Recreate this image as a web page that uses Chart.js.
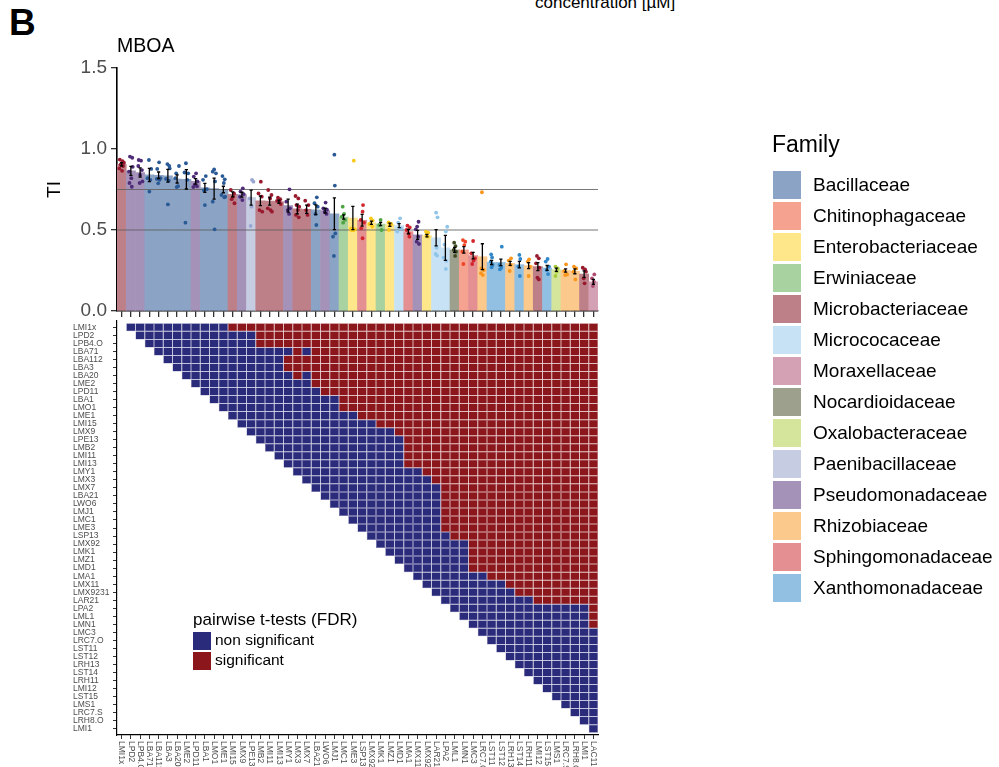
<!DOCTYPE html>
<html>
<head>
<meta charset="utf-8">
<script src="https://cdn.jsdelivr.net/npm/chart.js@4.4.1/dist/chart.umd.min.js"></script>
<style>
  html, body { margin: 0; padding: 0; background: #fff; width: 999px; height: 767px; overflow: hidden; }
  canvas { position: absolute; left: 0; top: 0; }
  #panel { position: absolute; left: 9px; top: 4px; font: bold 37px "Liberation Sans", Arial, sans-serif; line-height: 1; color: #000; }
  #conc { position: absolute; left: 535px; top: -6px; font: 17px "Liberation Sans", Arial, sans-serif; line-height: 1; color: #000; }
</style>
</head>
<body>
<div id="panel">B</div>
<div id="conc">concentration [µM]</div>
<canvas id="heat" width="999" height="767"></canvas>
<canvas id="bars" width="999" height="767"></canvas>
<script>
// ---- strains (x categories, ordered by mean TI) ----
const strains = ['LMI1x','LPD2','LPB4.O','LBA71','LBA112','LBA3','LBA20','LME2','LPD11','LBA1',
  'LMO1','LME1','LMI15','LMX9','LPE13','LMB2','LMI11','LMI13','LMY1','LMX3',
  'LMX7','LBA21','LWO6','LMJ1','LMC1','LME3','LSP13','LMX92','LMK1','LMZ1',
  'LMD1','LMA1','LMX11','LMX9231','LAR21','LPA2','LML1','LMN1','LMC3','LRC7.O',
  'LST11','LST12','LRH13','LST14','LRH11','LMI12','LST15','LMS1','LRC7.S','LRH8.O',
  'LMI1','LAC11'];

const strainFamily = ['Microbacteriaceae','Pseudomonadaceae','Pseudomonadaceae','Bacillaceae','Bacillaceae',
  'Bacillaceae','Bacillaceae','Bacillaceae','Pseudomonadaceae','Bacillaceae',
  'Bacillaceae','Bacillaceae','Microbacteriaceae','Pseudomonadaceae','Paenibacillaceae',
  'Microbacteriaceae','Microbacteriaceae','Microbacteriaceae','Pseudomonadaceae','Microbacteriaceae',
  'Microbacteriaceae','Bacillaceae','Pseudomonadaceae','Bacillaceae','Erwiniaceae',
  'Enterobacteriaceae','Sphingomonadaceae','Enterobacteriaceae','Erwiniaceae','Enterobacteriaceae',
  'Micrococaceae','Sphingomonadaceae','Pseudomonadaceae','Enterobacteriaceae','Micrococaceae',
  'Micrococaceae','Nocardioidaceae','Chitinophagaceae','Sphingomonadaceae','Rhizobiaceae',
  'Xanthomonadaceae','Xanthomonadaceae','Rhizobiaceae','Xanthomonadaceae','Rhizobiaceae',
  'Microbacteriaceae','Xanthomonadaceae','Oxalobacteraceae','Rhizobiaceae','Rhizobiaceae',
  'Microbacteriaceae','Moraxellaceae'];

// ---- mean TI and standard error per strain ----
const meanTI = [0.905,0.865,0.855,0.840,0.838,0.835,0.815,0.813,0.800,0.760,
  0.755,0.750,0.720,0.718,0.700,0.680,0.678,0.675,0.650,0.630,
  0.628,0.625,0.620,0.600,0.580,0.574,0.560,0.545,0.537,0.532,
  0.527,0.490,0.470,0.465,0.452,0.390,0.377,0.377,0.342,0.335,
  0.300,0.300,0.294,0.286,0.280,0.274,0.266,0.255,0.250,0.245,
  0.228,0.180];
const seTI = [0.010,0.028,0.028,0.041,0.020,0.039,0.025,0.060,0.017,0.028,
  0.065,0.020,0.015,0.015,0.046,0.030,0.025,0.010,0.040,0.030,
  0.025,0.030,0.015,0.098,0.013,0.072,0.036,0.010,0.010,0.010,
  0.012,0.013,0.028,0.008,0.050,0.077,0.015,0.020,0.020,0.080,
  0.013,0.020,0.012,0.020,0.018,0.025,0.015,0.010,0.010,0.015,
  0.020,0.015];

// ---- replicate TI values and their horizontal jitter (category units) ----
const repTI = [
  [0.935,0.925,0.915,0.905,0.895,0.880,0.865],
  [0.953,0.946,0.890,0.860,0.820,0.790,0.767],
  [0.932,0.928,0.895,0.870,0.840,0.800,0.790],
  [0.932,0.877,0.820,0.810,0.737],
  [0.918,0.877,0.820,0.815,0.810,0.788],
  [0.907,0.895,0.880,0.815,0.805,0.658],
  [0.895,0.850,0.820,0.770,0.765],
  [0.912,0.855,0.850,0.810,0.545],
  [0.850,0.830,0.800,0.780,0.770,0.765],
  [0.833,0.810,0.752,0.745,0.654],
  [0.874,0.860,0.850,0.800,0.675,0.504],
  [0.833,0.813,0.790,0.716,0.706,0.702],
  [0.747,0.726,0.706,0.690,0.665],
  [0.757,0.737,0.722,0.705,0.685],
  [0.809,0.798,0.695,0.644,0.525],
  [0.798,0.726,0.706,0.623,0.613],
  [0.747,0.716,0.695,0.634,0.623,0.613],
  [0.700,0.690,0.680,0.675,0.660],
  [0.751,0.675,0.634,0.623,0.599],
  [0.710,0.695,0.654,0.644,0.623,0.593,0.578],
  [0.681,0.654,0.623,0.593],
  [0.702,0.665,0.644,0.599,0.531],
  [0.669,0.634,0.625,0.613,0.599],
  [0.965,0.774,0.479,0.459,0.340],
  [0.644,0.600,0.582,0.562,0.545],
  [0.928,0.510,0.505,0.500,0.500,0.500],
  [0.654,0.613,0.562,0.545,0.510,0.449],
  [0.572,0.558,0.537,0.521],
  [0.562,0.531,0.500],
  [0.547,0.537,0.531,0.500],
  [0.572,0.545,0.510,0.490],
  [0.527,0.516,0.500,0.479,0.459],
  [0.551,0.521,0.504,0.459,0.428,0.414],
  [0.490,0.484,0.469,0.459],
  [0.607,0.578,0.391,0.352,0.342],
  [0.520,0.490,0.410,0.330,0.310,0.260],
  [0.422,0.401,0.377,0.366,0.340],
  [0.438,0.428,0.407,0.366,0.290],
  [0.432,0.356,0.325,0.311,0.290],
  [0.733,0.263,0.253,0.233,0.222],
  [0.350,0.331,0.305,0.284,0.270],
  [0.397,0.284,0.267,0.257],
  [0.325,0.311,0.284,0.247],
  [0.346,0.321,0.274,0.216],
  [0.319,0.305,0.274,0.216],
  [0.340,0.325,0.294,0.267,0.206,0.195],
  [0.321,0.305,0.274,0.253,0.228],
  [0.274,0.263,0.243,0.216],
  [0.288,0.247,0.226,0.222],
  [0.274,0.263,0.243,0.195],
  [0.267,0.257,0.243,0.202,0.171],
  [0.226,0.202,0.181,0.154]
];
const repJitter = [
  [-0.20,0.10,0.25,-0.10,0.15,-0.25,0.05],
  [-0.10,0.15,0.20,-0.20,0.05,-0.15,0.10],
  [-0.15,0.10,-0.20,0.20,0.00,0.25,-0.05],
  [-0.05,0.20,-0.20,0.10,0.00],
  [0.05,-0.15,0.20,-0.20,0.10,-0.05],
  [-0.05,0.15,0.20,-0.20,0.10,0.00],
  [0.20,-0.10,-0.20,0.10,-0.05],
  [-0.05,-0.20,0.20,0.10,-0.10],
  [0.05,-0.20,0.20,-0.10,0.15,-0.25],
  [0.10,-0.20,0.20,-0.10,0.00],
  [0.00,-0.15,0.20,0.10,-0.15,0.05],
  [-0.10,0.15,0.05,-0.20,0.20,0.10],
  [-0.20,0.15,0.05,-0.10,0.20],
  [0.10,-0.15,0.20,-0.20,0.05],
  [0.10,0.25,-0.15,0.05,-0.05],
  [0.05,-0.20,0.15,-0.10,0.20],
  [-0.15,0.20,0.05,-0.20,0.10,0.25],
  [-0.10,0.15,-0.20,0.05,0.20],
  [0.15,-0.20,0.20,-0.05,0.10],
  [-0.20,0.10,-0.10,0.20,0.05,-0.15,0.15],
  [-0.15,0.20,-0.05,0.10],
  [0.10,-0.15,0.20,-0.05,0.05],
  [0.05,-0.20,0.20,-0.05,0.15],
  [0.00,0.05,0.10,-0.15,-0.05],
  [-0.10,0.05,-0.20,0.15,-0.05],
  [0.10,-0.20,0.20,-0.05,0.10,-0.15],
  [0.10,0.05,-0.15,0.20,-0.10,0.05],
  [-0.05,0.15,-0.20,0.10],
  [0.00,-0.15,0.10],
  [-0.15,0.15,0.00,-0.10],
  [0.10,-0.10,0.20,-0.20],
  [-0.10,0.15,-0.20,0.05,0.10],
  [0.10,-0.05,-0.20,0.05,-0.10,0.15],
  [-0.10,0.15,-0.05,0.10],
  [0.00,0.15,0.05,-0.05,0.10],
  [0.20,0.05,-0.10,-0.20,0.10,0.05],
  [-0.05,0.10,-0.10,0.15,0.05],
  [-0.10,0.15,0.05,-0.15,-0.05],
  [0.00,-0.20,0.20,0.05,-0.10],
  [-0.05,-0.10,0.15,-0.15,0.05],
  [-0.05,0.05,-0.10,0.10,0.00],
  [0.10,-0.15,0.05,-0.10],
  [0.10,-0.15,0.05,-0.05],
  [0.00,0.10,-0.10,0.05],
  [0.05,-0.10,0.15,0.00],
  [-0.10,0.10,-0.20,0.15,-0.05,0.10],
  [0.05,-0.15,0.20,-0.05,0.10],
  [-0.10,0.15,0.05,-0.10],
  [0.05,-0.15,0.15,-0.05],
  [-0.10,0.15,-0.15,0.05],
  [-0.15,0.10,0.20,-0.05,0.05],
  [0.10,-0.15,0.05,-0.05]
];

// reference levels drawn as horizontal lines
const refLevels = [0.75, 0.5];
const yTicks = [0, 0.5, 1.0, 1.5];

// ---- pairwise t-tests (FDR): first significant column per row, plus isolated non-significant cells ----
const sigFrom = [12,15,15,19,18,18,19,21,22,24,
  24,26,28,30,31,31,31,31,33,34,
  35,35,35,35,35,35,36,38,38,38,
  38,40,42,43,45,51,51,51,52,52,
  52,52,52,52,52,52,52,52,52,52,
  52];
const nonSigCells = [[3,20],[6,20]];

// ---- families ----
const familyNames = ['Bacillaceae','Chitinophagaceae','Enterobacteriaceae','Erwiniaceae','Microbacteriaceae',
  'Micrococaceae','Moraxellaceae','Nocardioidaceae','Oxalobacteraceae','Paenibacillaceae',
  'Pseudomonadaceae','Rhizobiaceae','Sphingomonadaceae','Xanthomonadaceae'];
const familyFill = ['#8BA3C4','#F6A290','#FEE68A','#A8D2A0','#BE8088',
  '#C7E2F4','#D4A0B4','#9CA08C','#D5E59C','#C6CCE2',
  '#A592B9','#FCC98C','#E48F92','#92C0E3'];
const familyDot = ['#2A5A96','#ED4525','#F9C91A','#4FA443','#99192E',
  '#8FC5E9','#B04A72','#3F4A22','#A6CB3A','#9AA6D2',
  '#4E2C78','#F8961E','#D2262E','#2F86C8'];

const sigLabels = ['non significant', 'significant'];
const sigColors = ['#2B2B7B', '#8B171C'];
const sigEdges = ['#7677AE', '#B7686B'];

const FONT = '"Liberation Sans", Arial, sans-serif';
Chart.defaults.font.family = FONT;

const famIdx = name => familyNames.indexOf(name);

// ================= heat map of pairwise tests =================
const cells = [], cellFill = [], cellEdge = [];
for (let r = 0; r < strains.length - 1; r++) {
  for (let j = r + 1; j < strains.length; j++) {
    const sig = j >= sigFrom[r] && !nonSigCells.some(c => c[0] === r && c[1] === j) ? 1 : 0;
    cells.push({ y: r, x: [j - 0.5, j + 0.5] });
    cellFill.push(sigColors[sig]);
    cellEdge.push(sigEdges[sig]);
  }
}
const rowLabels = strains.slice(0, strains.length - 1);

const heatDecor = {
  id: 'heatDecor',
  afterDraw(chart) {
    const ctx = chart.ctx;
    const xs = chart.scales.x;
    ctx.save();
    // rotated column labels under the matrix
    ctx.font = '8.5px ' + FONT;
    ctx.fillStyle = '#4d4d4d';
    ctx.textAlign = 'left';
    ctx.textBaseline = 'middle';
    strains.forEach((s, i) => {
      ctx.save();
      ctx.translate(xs.getPixelForValue(i), xs.top + 6);
      ctx.rotate(Math.PI / 2);
      ctx.fillText(s, 0, 0);
      ctx.restore();
    });
    // legend for the test outcome
    ctx.fillStyle = '#000';
    ctx.textBaseline = 'middle';
    ctx.font = '17px ' + FONT;
    ctx.fillText('pairwise t-tests (FDR)', 193, 620);
    ctx.font = '15.5px ' + FONT;
    sigLabels.forEach((lab, k) => {
      ctx.fillStyle = sigColors[k];
      ctx.fillRect(193, 632 + 20 * k, 18, 18);
      ctx.fillStyle = '#000';
      ctx.fillText(lab, 215, 641 + 20 * k);
    });
    // family legend
    ctx.font = '23px ' + FONT;
    ctx.fillText('Family', 772, 146);
    ctx.font = '19px ' + FONT;
    familyNames.forEach((f, k) => {
      ctx.fillStyle = familyFill[k];
      ctx.fillRect(773, 171 + 31 * k, 28, 28);
      ctx.fillStyle = '#000';
      ctx.fillText(f, 813, 185.5 + 31 * k);
    });
    ctx.restore();
  }
};

new Chart(document.getElementById('heat'), {
  type: 'bar',
  data: {
    datasets: [{
      data: cells,
      backgroundColor: cellFill,
      borderColor: cellEdge,
      borderWidth: 0.5,
      borderSkipped: false,
      inflateAmount: 0,
      barPercentage: 1,
      categoryPercentage: 1
    }]
  },
  options: {
    indexAxis: 'y',
    responsive: false,
    animation: false,
    events: [],
    layout: { padding: { left: 73, top: 321, right: 401, bottom: 0 } },
    plugins: { legend: { display: false }, tooltip: { enabled: false } },
    scales: {
      x: {
        type: 'linear', position: 'bottom', min: -0.5, max: 51.5, offset: false,
        afterBuildTicks: s => { s.ticks = strains.map((_, i) => ({ value: i })); },
        ticks: { display: false },
        grid: { offset: false, drawOnChartArea: false, drawTicks: true, tickLength: 4, color: '#333', lineWidth: 1 },
        border: { display: true, color: '#000', width: 1.2 },
        afterFit: s => { s.height = 32; }
      },
      y: {
        type: 'linear', reverse: true, min: -0.79, max: 50.79, offset: false,
        afterBuildTicks: s => { s.ticks = rowLabels.map((_, i) => ({ value: i })); },
        ticks: {
          autoSkip: false, crossAlign: 'far', color: '#4d4d4d',
          font: { size: 8.5, family: FONT },
          callback: v => rowLabels[v]
        },
        grid: { offset: false, drawOnChartArea: false, drawTicks: true, tickLength: 4, color: '#333', lineWidth: 1 },
        border: { display: true, color: '#000', width: 1.2 },
        afterFit: s => { s.width = 44; }
      }
    }
  },
  plugins: [heatDecor]
});

// ================= bar chart of mean TI =================
const barData = strains.map((s, i) => ({ x: i, y: meanTI[i] }));
const barFill = strainFamily.map(f => familyFill[famIdx(f)]);
const dots = [], dotColors = [];
repTI.forEach((vals, i) => {
  vals.forEach((v, k) => {
    dots.push({ x: i + repJitter[i][k], y: v });
    dotColors.push(familyDot[famIdx(strainFamily[i])]);
  });
});

const errorBars = {
  id: 'errorBars',
  afterDatasetsDraw(chart) {
    const { ctx, scales: { x, y } } = chart;
    ctx.save();
    ctx.strokeStyle = '#000';
    ctx.lineWidth = 1.3;
    meanTI.forEach((m, i) => {
      const px = x.getPixelForValue(i);
      const lo = y.getPixelForValue(m - seTI[i]);
      const hi = y.getPixelForValue(m + seTI[i]);
      ctx.beginPath();
      ctx.moveTo(px, lo); ctx.lineTo(px, hi);
      ctx.moveTo(px - 1.6, lo); ctx.lineTo(px + 1.6, lo);
      ctx.moveTo(px - 1.6, hi); ctx.lineTo(px + 1.6, hi);
      ctx.stroke();
    });
    ctx.restore();
  }
};

const barTitle = {
  id: 'barTitle',
  afterDraw(chart) {
    const ctx = chart.ctx;
    ctx.save();
    ctx.font = '19.5px ' + FONT;
    ctx.fillStyle = '#000';
    ctx.textAlign = 'left';
    ctx.textBaseline = 'alphabetic';
    ctx.fillText('MBOA', chart.chartArea.left, 52);
    ctx.restore();
  }
};

const refDatasets = refLevels.map(v => ({
  type: 'line',
  data: [{ x: -0.5, y: v }, { x: 51.5, y: v }],
  borderColor: 'rgba(95,95,95,0.85)',
  borderWidth: 1.1,
  pointRadius: 0,
  order: 2
}));

new Chart(document.getElementById('bars'), {
  type: 'bar',
  data: {
    datasets: [
      {
        type: 'bar', data: barData, backgroundColor: barFill, borderWidth: 0,
        barPercentage: 1, categoryPercentage: 1, order: 3
      },
      ...refDatasets,
      {
        type: 'scatter', data: dots, backgroundColor: dotColors, pointRadius: 1.9,
        borderWidth: 0, order: 1
      }
    ]
  },
  options: {
    responsive: false,
    animation: false,
    events: [],
    layout: { padding: { left: 39, top: 68, right: 401, bottom: 446 } },
    plugins: { legend: { display: false }, tooltip: { enabled: false } },
    scales: {
      x: {
        type: 'linear', min: -0.5, max: 51.5, offset: false,
        afterBuildTicks: s => { s.ticks = strains.map((_, i) => ({ value: i })); },
        ticks: { display: false },
        grid: { offset: false, drawOnChartArea: false, drawTicks: true, tickLength: 6, color: '#333', lineWidth: 1.3 },
        border: { display: true, color: '#000', width: 1.6 },
        afterFit: s => { s.height = 10; }
      },
      y: {
        type: 'linear', min: 0, max: 1.5,
        afterBuildTicks: s => { s.ticks = yTicks.map(v => ({ value: v })); },
        ticks: { color: '#4d4d4d', font: { size: 19, family: FONT }, padding: 4, callback: v => v.toFixed(1) },
        grid: { drawOnChartArea: false, drawTicks: true, tickLength: 6, color: '#333', lineWidth: 1.3 },
        border: { display: true, color: '#000', width: 1.6 },
        title: { display: true, text: 'TI', color: '#000', font: { size: 19, family: FONT }, padding: { top: 4, bottom: 0 } },
        afterFit: s => { s.width = 78; }
      }
    }
  },
  plugins: [errorBars, barTitle]
});
</script>
</body>
</html>
